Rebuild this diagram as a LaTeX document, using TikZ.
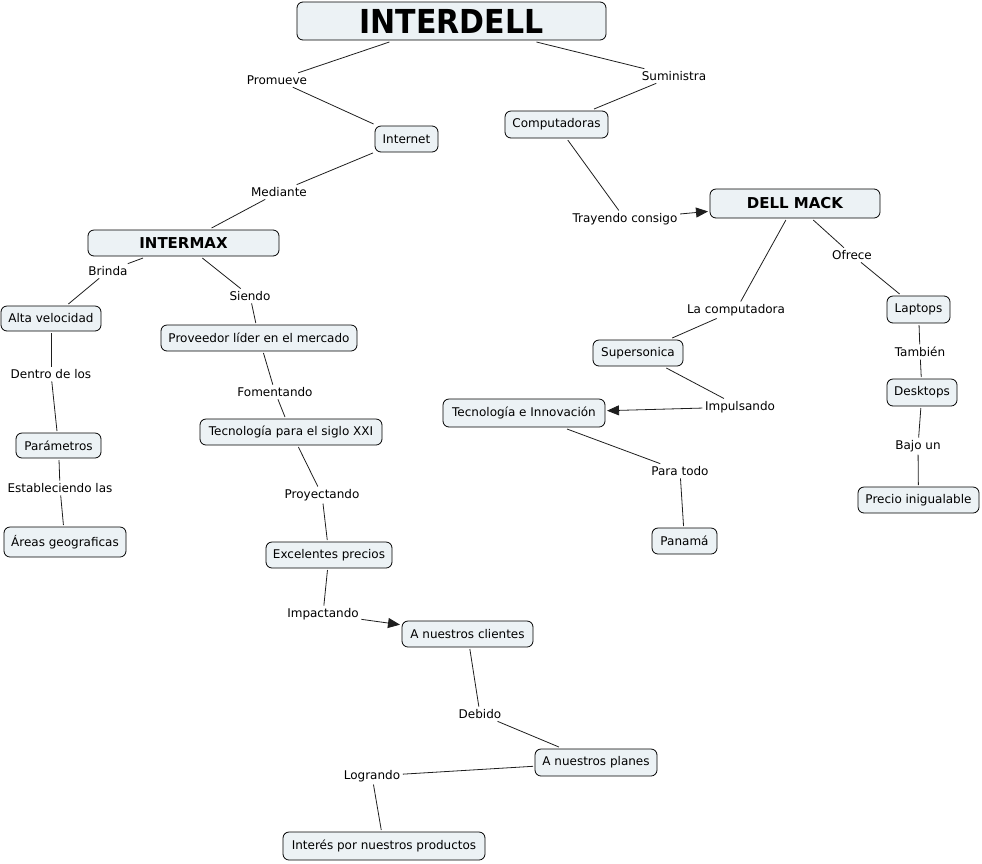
\documentclass[tikz,border=0pt]{standalone}
\usepackage{fontspec}
\setmainfont{DejaVu Sans}
\usetikzlibrary{arrows.meta}
\definecolor{boxfill}{RGB}{236,242,245}
\definecolor{linecol}{RGB}{30,30,30}
\begin{document}
\begin{tikzpicture}[x=1pt,y=-1pt,
  concept/.style={draw=black,fill=boxfill,rounded corners=6pt,line width=0.8pt,
    inner xsep=6pt,inner ysep=2pt,outer sep=2pt,font=\fontsize{12}{14}\selectfont},
  title/.style={concept,font=\fontsize{15}{17}\selectfont\bfseries},
  lbl/.style={inner sep=2.5pt,font=\fontsize{12}{14}\selectfont},
  conn/.style={draw=linecol,line width=0.8pt},
  arr/.style={conn,-{Triangle[length=12pt,width=10pt]}}]
\useasboundingbox (0,0) rectangle (982,863);
% concept boxes
\node[concept,minimum width=309pt,minimum height=38pt,font=\fontsize{30}{32}\selectfont\bfseries] (t) at (451.5,21) {\scalebox{1}[1.1]{INTERDELL}};
\node[concept,minimum width=63pt,minimum height=26pt] (internet) at (406.5,139) {Internet};
\node[concept,minimum width=103pt,minimum height=27pt] (comp) at (556.5,124.5) {Computadoras};
\node[title,minimum width=170pt,minimum height=29pt] (dell) at (795,203.5) {DELL MACK};
\node[title,minimum width=191pt,minimum height=26pt] (intermax) at (183.5,243) {INTERMAX};
\node[concept,minimum width=100pt,minimum height=25pt] (alta) at (51,318.5) {Alta velocidad};
\node[concept,minimum width=196pt,minimum height=26pt] (prov) at (259,338) {Proveedor líder en el mercado};
\node[concept,minimum width=85pt,minimum height=25pt] (param) at (58.5,445.5) {Parámetros};
\node[concept,minimum width=122pt,minimum height=30pt] (areas) at (65,542) {Áreas geograficas};
\node[concept,minimum width=182pt,minimum height=26pt] (tecxxi) at (291,432) {Tecnología para el siglo XXI};
\node[concept,minimum width=126pt,minimum height=26pt] (excel) at (329,555) {Excelentes precios};
\node[concept,minimum width=131pt,minimum height=26pt] (clientes) at (467.5,634) {A nuestros clientes};
\node[concept,minimum width=122pt,minimum height=27pt] (planes) at (596,762.5) {A nuestros planes};
\node[concept,minimum width=202pt,minimum height=28pt] (interes) at (384,846) {Interés por nuestros productos};
\node[concept,minimum width=90pt,minimum height=26pt] (super) at (638,353) {Supersonica};
\node[concept,minimum width=162pt,minimum height=28pt] (tecinn) at (524,413) {Tecnología e Innovación};
\node[concept,minimum width=65pt,minimum height=26pt] (panama) at (684.5,541) {Panamá};
\node[concept,minimum width=63pt,minimum height=27pt] (laptops) at (918.5,309.5) {Laptops};
\node[concept,minimum width=70pt,minimum height=27pt] (desktops) at (922,392.5) {Desktops};
\node[concept,minimum width=121pt,minimum height=26pt] (precio) at (918.5,500) {Precio inigualable};
% linking phrases
\node[lbl] (promueve) at (277,80) {Promueve};
\node[lbl] (suministra) at (674,76) {Suministra};
\node[lbl] (mediante) at (279,192) {Mediante};
\node[lbl] (trayendo) at (625,219) {Trayendo consigo};
\node[lbl] (brinda) at (108,271) {Brinda};
\node[lbl] (siendo) at (250,296) {Siendo};
\node[lbl] (ofrece) at (852,255) {Ofrece};
\node[lbl] (lacomp) at (736,310) {La computadora};
\node[lbl] (tambien) at (920,352) {También};
\node[lbl] (dentro) at (51,374) {Dentro de los};
\node[lbl] (fomentando) at (275,392) {Fomentando};
\node[lbl] (impulsando) at (740,407) {Impulsando};
\node[lbl] (bajoun) at (918,446) {Bajo un};
\node[lbl] (estableciendo) at (60,488) {Estableciendo las};
\node[lbl] (proyectando) at (322,495) {Proyectando};
\node[lbl] (paratodo) at (680,471) {Para todo};
\node[lbl] (impactando) at (323,614) {Impactando};
\node[lbl] (debido) at (480,714) {Debido};
\node[lbl] (logrando) at (372,776) {Logrando};
% connectors
\draw[conn] (t) -- (promueve);
\draw[conn] (promueve) -- (internet);
\draw[conn] (t) -- (suministra);
\draw[conn] (suministra) -- (comp);
\draw[conn] (internet) -- (mediante);
\draw[conn] (mediante) -- (intermax);
\draw[conn] (comp) -- (trayendo);
\draw[arr] (trayendo) -- (dell);
\draw[conn] (intermax) -- (brinda);
\draw[conn] (brinda) -- (alta);
\draw[conn] (intermax) -- (siendo);
\draw[conn] (siendo) -- (prov);
\draw[conn] (dell) -- (lacomp);
\draw[conn] (lacomp) -- (super);
\draw[conn] (dell) -- (ofrece);
\draw[conn] (ofrece) -- (laptops);
\draw[conn] (laptops) -- (tambien);
\draw[conn] (tambien) -- (desktops);
\draw[conn] (desktops) -- (bajoun);
\draw[conn] (bajoun) -- (precio);
\draw[conn] (alta) -- (dentro);
\draw[conn] (dentro) -- (param);
\draw[conn] (param) -- (estableciendo);
\draw[conn] (estableciendo) -- (areas);
\draw[conn] (prov) -- (fomentando);
\draw[conn] (fomentando) -- (tecxxi);
\draw[conn] (tecxxi) -- (proyectando);
\draw[conn] (proyectando) -- (excel);
\draw[conn] (excel) -- (impactando);
\draw[arr] (impactando) -- (clientes);
\draw[conn] (clientes) -- (debido);
\draw[conn] (debido) -- (planes);
\draw[conn] (planes) -- (logrando);
\draw[conn] (logrando) -- (interes);
\draw[conn] (super) -- (impulsando);
\draw[arr] (impulsando) -- (tecinn);
\draw[conn] (tecinn) -- (paratodo);
\draw[conn] (paratodo) -- (panama);
\end{tikzpicture}
\end{document}
